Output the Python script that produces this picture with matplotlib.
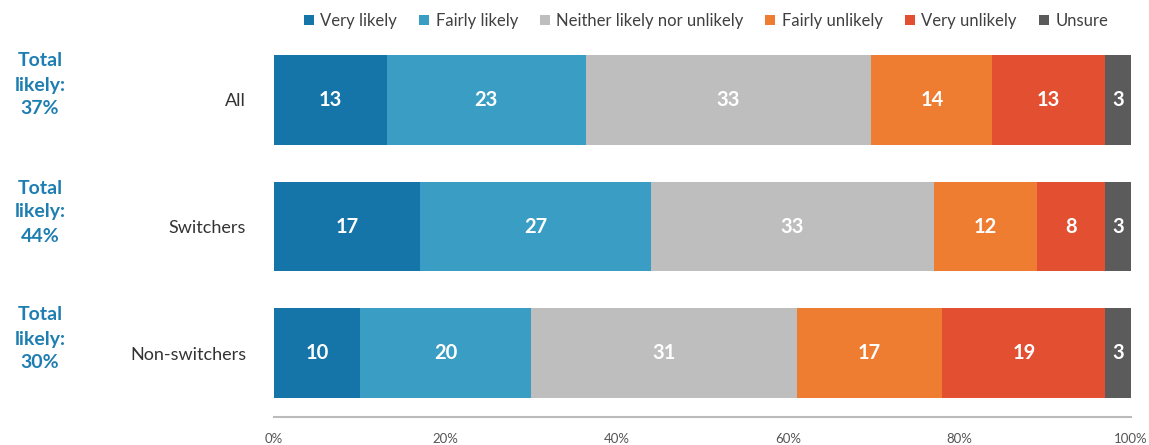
import matplotlib
matplotlib.use("Agg")
import matplotlib.pyplot as plt
import numpy as np

plt.rcParams['font.family'] = ['Lato', 'DejaVu Sans']

categories = ["All", "Switchers", "Non-switchers"]
series = ["Very likely", "Fairly likely", "Neither likely nor unlikely",
          "Fairly unlikely", "Very unlikely", "Unsure"]
very_likely = [13, 17, 10]
fairly_likely = [23, 27, 20]
neither = [33, 33, 31]
fairly_unlikely = [14, 12, 17]
very_unlikely = [13, 8, 19]
unsure = [3, 3, 3]
total_likely = ["37%", "44%", "30%"]
xtick_labels = ["0%", "20%", "40%", "60%", "80%", "100%"]

colors = ["#1574A8", "#3A9DC4", "#BEBEBE", "#EE7D31", "#E24F31", "#5B5B5B"]

data = np.array([very_likely, fairly_likely, neither, fairly_unlikely, very_unlikely, unsure], dtype=float)
totals = data.sum(axis=0)
shares = data / totals * 100

fig = plt.figure(figsize=(11.49, 4.45), dpi=100)
ax = fig.add_axes([274/1149, 1 - 416.5/445, (1131-274)/1149, (416.5-36.5)/445])

ypos = np.arange(len(categories))
left = np.zeros(len(categories))
for i, name in enumerate(series):
    ax.barh(ypos, shares[i], left=left, height=0.71, color=colors[i], label=name)
    for j in range(len(categories)):
        ax.text(left[j] + shares[i][j] / 2, ypos[j], f"{int(data[i][j])}",
                ha="center", va="center", color="white", fontsize=14.5, fontweight="bold")
    left += shares[i]

ax.set_xlim(0, 100)
ax.set_ylim(len(categories) - 0.5, -0.5)
ax.set_xticks(np.linspace(0, 100, 6))
ax.set_xticklabels(xtick_labels, fontsize=9.5, color="#555555")
ax.tick_params(axis="x", length=0, pad=12)
ax.set_yticks(ypos)
ax.set_yticklabels(categories, fontsize=13, color="#333333")
ax.tick_params(axis="y", length=0, pad=20)
for s in ["top", "right", "left"]:
    ax.spines[s].set_visible(False)
ax.spines["bottom"].set_color("#BBBBBB")
ax.spines["bottom"].set_linewidth(1.5)

for j, t in enumerate(total_likely):
    fig.text(40/1149, 1 - (ypos[j] * 127 + 85) / 445, f"Total\nlikely:\n{t}",
             ha="center", va="center", color="#1F7EB1", fontsize=14,
             fontweight="bold", linespacing=1.5)

leg = fig.legend(loc="center", bbox_to_anchor=(706/1149, 1 - 21/445), ncol=6,
                 frameon=False, fontsize=12, handlelength=0.6, handleheight=0.6,
                 handletextpad=0.4, columnspacing=1.3)
for t in leg.get_texts():
    t.set_color("#404040")

fig.savefig("out.png", dpi=100)
